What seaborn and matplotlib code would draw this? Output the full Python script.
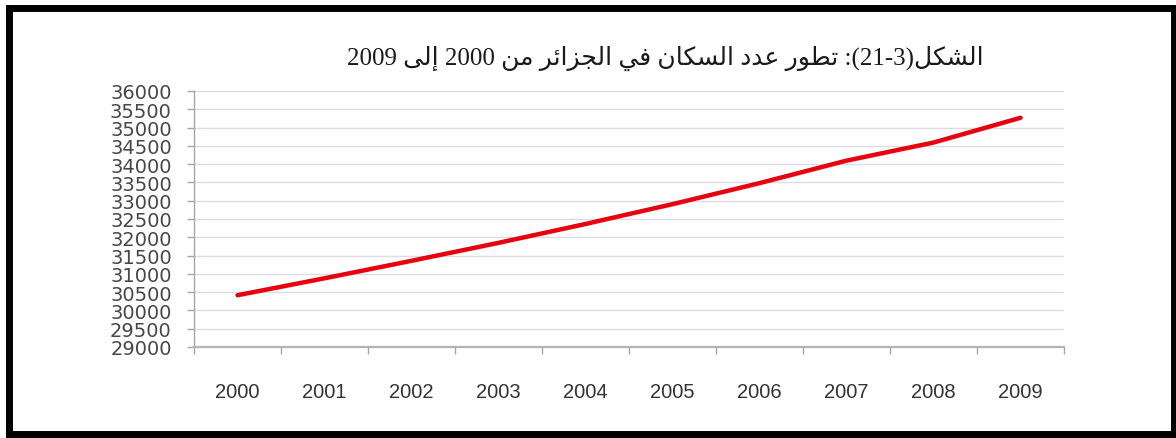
import re
import matplotlib
matplotlib.use("Agg")
import matplotlib.pyplot as plt
from matplotlib.patches import Rectangle
from matplotlib.ticker import FixedLocator, NullFormatter
import seaborn as sns
import pandas as pd

# ---------------- data ----------------
YEARS = [2000, 2001, 2002, 2003, 2004, 2005, 2006, 2007, 2008, 2009]
POPULATION = [30416, 30879, 31357, 31848, 32364, 32906, 33481, 34096, 34591, 35268]
Y_TICKS = list(range(29000, 36001, 500))
TITLE = "الشكل(3-21): تطور عدد السكان في الجزائر من 2000 إلى 2009"

# ---------------- minimal Arabic shaping (presentation forms) ----------------
DUAL = {
    'ل': (0xFEDD, 0xFEDE, 0xFEDF, 0xFEE0), 'ش': (0xFEB5, 0xFEB6, 0xFEB7, 0xFEB8),
    'ك': (0xFED9, 0xFEDA, 0xFEDB, 0xFEDC), 'ت': (0xFE95, 0xFE96, 0xFE97, 0xFE98),
    'ط': (0xFEC1, 0xFEC2, 0xFEC3, 0xFEC4), 'ع': (0xFEC9, 0xFECA, 0xFECB, 0xFECC),
    'س': (0xFEB1, 0xFEB2, 0xFEB3, 0xFEB4), 'ن': (0xFEE5, 0xFEE6, 0xFEE7, 0xFEE8),
    'ف': (0xFED1, 0xFED2, 0xFED3, 0xFED4), 'ي': (0xFEF1, 0xFEF2, 0xFEF3, 0xFEF4),
    'ج': (0xFE9D, 0xFE9E, 0xFE9F, 0xFEA0), 'ئ': (0xFE89, 0xFE8A, 0xFE8B, 0xFE8C),
    'م': (0xFEE1, 0xFEE2, 0xFEE3, 0xFEE4),
}
RIGHT = {
    'ا': (0xFE8D, 0xFE8E), 'و': (0xFEED, 0xFEEE), 'ر': (0xFEAD, 0xFEAE),
    'د': (0xFEA9, 0xFEAA), 'ز': (0xFEAF, 0xFEB0), 'إ': (0xFE87, 0xFE88),
    'ى': (0xFEEF, 0xFEF0),
}


def shape_word(word):
    out = []
    n = len(word)
    for i, c in enumerate(word):
        prev_j = i > 0 and word[i - 1] in DUAL
        next_j = c in DUAL and i < n - 1 and (word[i + 1] in DUAL or word[i + 1] in RIGHT)
        if c in DUAL:
            f = DUAL[c]
            g = f[3] if (prev_j and next_j) else f[1] if prev_j else f[2] if next_j else f[0]
        elif c in RIGHT:
            f = RIGHT[c]
            g = f[1] if prev_j else f[0]
        else:
            g = ord(c)
        out.append(chr(g))
    return "".join(reversed(out))


def visual_rtl(text):
    tokens = re.findall(r"[\u0600-\u06FF]+|\d+|.", text)
    mirror = {"(": ")", ")": "("}
    vis = []
    for t in reversed(tokens):
        if re.match(r"[\u0600-\u06FF]", t):
            vis.append(shape_word(t))
        else:
            vis.append(mirror.get(t, t))
    return "".join(vis)


# ---------------- figure ----------------
sns.set_theme(style="white")
plt.rcParams["font.family"] = ["DejaVu Sans"]

W, H = 1176, 439
fig = plt.figure(figsize=(W / 100, H / 100), dpi=100)
fig.patch.set_facecolor("white")

ax_left, ax_right, ax_top, ax_bottom = 194, 1064, 92, 348
ax = fig.add_axes([ax_left / W, 1 - ax_bottom / H, (ax_right - ax_left) / W, (ax_bottom - ax_top) / H])

df = pd.DataFrame({"year": YEARS, "pop": POPULATION})
sns.lineplot(data=df, x="year", y="pop", ax=ax, color="#e8000f", linewidth=3.2)

ax.set_xlim(YEARS[0] - 0.5, YEARS[-1] + 0.5)
ax.set_ylim(Y_TICKS[0], Y_TICKS[-1])
ax.set_xlabel("")
ax.set_ylabel("")

# y axis
ax.set_yticks(Y_TICKS)
ax.set_yticklabels([str(v) for v in Y_TICKS])
ax.tick_params(axis="y", which="major", length=5, width=1, color="#a6a6a6", pad=11,
               labelsize=14, labelcolor="#474747", direction="out", left=True)
for lab in ax.get_yticklabels():
    lab.set_fontfamily("DejaVu Sans")

# x axis: boundaries as major ticks, labels at centres as minor ticks
bounds = [y - 0.5 for y in YEARS] + [YEARS[-1] + 0.5]
ax.xaxis.set_major_locator(FixedLocator(bounds))
ax.xaxis.set_major_formatter(NullFormatter())
ax.xaxis.set_minor_locator(FixedLocator(YEARS))
ax.set_xticklabels([str(y) for y in YEARS], minor=True)
ax.tick_params(axis="x", which="major", length=5, width=1, color="#a6a6a6", direction="out", bottom=True)
ax.tick_params(axis="x", which="minor", length=0, pad=25, labelsize=14.5, labelcolor="#333333")
for lab in ax.get_xticklabels(minor=True):
    lab.set_fontfamily("Liberation Sans")

# grid & spines
ax.grid(axis="y", color="#dcdce6", linewidth=1)
ax.grid(axis="x", visible=False)
for s in ["top", "right"]:
    ax.spines[s].set_visible(False)
ax.spines["left"].set_color("#a6a6a6")
ax.spines["left"].set_linewidth(1)
ax.spines["bottom"].set_color("#b4b4b4")
ax.spines["bottom"].set_linewidth(1.6)

# title
fig.text(0.566, 1 - 58 / H, visual_rtl(TITLE), ha="center", va="center",
         fontsize=18, color="#1a1a1a", family=["Liberation Serif", "DejaVu Sans"])

# outer black frame
x0, x1 = 8.5, 1174
y0, y1 = H - 434.5, H - 8.5
fig.add_artist(Rectangle((x0 / W, y0 / H), (x1 - x0) / W, (y1 - y0) / H,
                         transform=fig.transFigure, fill=False, edgecolor="black",
                         linewidth=5, clip_on=False))

fig.savefig("out.png", dpi=100)
